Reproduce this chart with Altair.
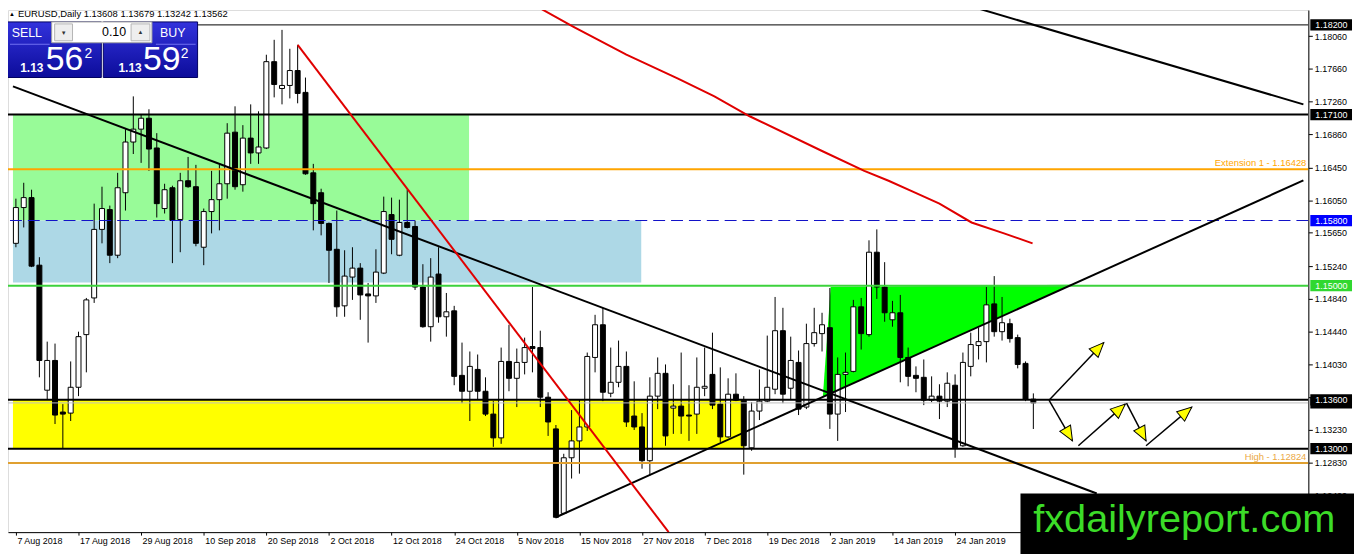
import math
import altair as alt
import pandas as pd

# ---------------- data: daily EURUSD candles (7 Aug 2018 .. 7 Feb 2019) ----------------
OPEN = [1.15520, 1.15959, 1.16081, 1.15252, 1.13718, 1.14083, 1.13450, 1.13437, 1.13754, 1.14400,
        1.14850, 1.15691, 1.15934, 1.15374, 1.16141, 1.16763, 1.16921, 1.17055, 1.16690, 1.15947,
        1.16202, 1.15813, 1.16288, 1.16215, 1.15472, 1.15910, 1.16056, 1.16251, 1.16884, 1.16239,
        1.16811, 1.16629, 1.16690, 1.17749, 1.17420, 1.17457, 1.17640, 1.17372, 1.16385, 1.16141,
        1.15764, 1.15447, 1.14753, 1.15106, 1.15216, 1.14899, 1.14875, 1.15155, 1.15873, 1.15374,
        1.15776, 1.15727, 1.14984, 1.14497, 1.15143, 1.14619, 1.14692, 1.13900, 1.13705, 1.13973,
        1.13705, 1.13425, 1.13133, 1.14071, 1.13864, 1.14059, 1.14254, 1.14241, 1.13632, 1.13243,
        1.12207, 1.12889, 1.13096, 1.13267, 1.14120, 1.14521, 1.13681, 1.13815, 1.14010, 1.13401,
        1.13267, 1.12853, 1.13645, 1.13925, 1.13498, 1.13523, 1.13413, 1.13425, 1.13742, 1.13912,
        1.13547, 1.13145, 1.13669, 1.13596, 1.13011, 1.13462, 1.13584, 1.13730, 1.14448, 1.13742,
        1.14059, 1.13511, 1.14290, 1.14412, 1.14485, 1.13425, 1.13912, 1.13949, 1.14741, 1.14400,
        1.15411, 1.14984, 1.14582, 1.14668, 1.14120, 1.13900, 1.13876, 1.13596, 1.13645, 1.13584,
        1.13779, 1.13036, 1.14010, 1.14266, 1.14314, 1.14777, 1.14436, 1.14534, 1.14363, 1.14047,
        1.13608]
HIGH = [1.16068, 1.16263, 1.16178, 1.15350, 1.14314, 1.14290, 1.13547, 1.14071, 1.14436, 1.14850,
        1.16007, 1.16215, 1.15983, 1.16385, 1.16921, 1.17323, 1.17104, 1.17165, 1.16872, 1.16251,
        1.16227, 1.16385, 1.16580, 1.16483, 1.15947, 1.16409, 1.16483, 1.16994, 1.17201, 1.16970,
        1.17225, 1.17140, 1.17834, 1.18017, 1.18139, 1.17907, 1.17956, 1.17554, 1.16495, 1.16190,
        1.15776, 1.15922, 1.15435, 1.15472, 1.15277, 1.15033, 1.15447, 1.16093, 1.16081, 1.16056,
        1.16178, 1.15800, 1.15264, 1.15338, 1.15472, 1.14911, 1.14753, 1.14302, 1.14193, 1.14156,
        1.13876, 1.13584, 1.14241, 1.14521, 1.14229, 1.14363, 1.14984, 1.14448, 1.13693, 1.13291,
        1.12938, 1.13474, 1.13608, 1.14180, 1.14643, 1.14729, 1.14241, 1.14327, 1.14193, 1.13827,
        1.13437, 1.13876, 1.14120, 1.14034, 1.13791, 1.14180, 1.13779, 1.14120, 1.14241, 1.14424,
        1.13998, 1.13864, 1.13925, 1.13645, 1.13571, 1.13973, 1.14388, 1.14862, 1.14729, 1.14375,
        1.14205, 1.14534, 1.14729, 1.14668, 1.14972, 1.14120, 1.14180, 1.14826, 1.14850, 1.15557,
        1.15691, 1.15289, 1.14814, 1.14887, 1.14241, 1.14010, 1.14095, 1.13888, 1.13791, 1.13937,
        1.13912, 1.14180, 1.14424, 1.14485, 1.14984, 1.15118, 1.14862, 1.14595, 1.14400, 1.14071,
        1.13679]
LOW = [1.15472, 1.15715, 1.15228, 1.13876, 1.13608, 1.13303, 1.12999, 1.13340, 1.13645, 1.13937,
       1.14789, 1.15520, 1.15277, 1.15338, 1.15922, 1.16616, 1.16507, 1.16409, 1.15837, 1.15886,
       1.15277, 1.15411, 1.16202, 1.15484, 1.15252, 1.15642, 1.15679, 1.16068, 1.16178, 1.16154,
       1.16495, 1.16495, 1.16677, 1.17311, 1.17225, 1.17298, 1.17238, 1.16361, 1.15679, 1.15618,
       1.15033, 1.14619, 1.14619, 1.14826, 1.14582, 1.14302, 1.14789, 1.15143, 1.15386, 1.15362,
       1.15703, 1.14948, 1.14485, 1.14314, 1.14546, 1.14375, 1.13779, 1.13559, 1.13340, 1.13608,
       1.13401, 1.13023, 1.13060, 1.13705, 1.13511, 1.13912, 1.13937, 1.13511, 1.13157, 1.12146,
       1.12195, 1.12634, 1.12694, 1.13218, 1.13937, 1.13584, 1.13632, 1.13754, 1.13267, 1.13230,
       1.12755, 1.12670, 1.13486, 1.13036, 1.13182, 1.13182, 1.13096, 1.13182, 1.13645, 1.13486,
       1.13084, 1.13133, 1.13584, 1.12682, 1.12975, 1.13352, 1.13571, 1.13669, 1.13559, 1.13608,
       1.13413, 1.13486, 1.14253, 1.14193, 1.13243, 1.13096, 1.13450, 1.13937, 1.14217, 1.14375,
       1.14838, 1.14558, 1.14497, 1.13815, 1.13766, 1.13693, 1.13535, 1.13571, 1.13364, 1.13511,
       1.12889, 1.13023, 1.13888, 1.14095, 1.14059, 1.14375, 1.14327, 1.14302, 1.13986, 1.13584,
       1.13242]
CLOSE = [1.15959, 1.16081, 1.15240, 1.14083, 1.14083, 1.13413, 1.13425, 1.13754, 1.14375, 1.14826,
         1.15691, 1.15947, 1.15374, 1.16202, 1.16763, 1.16921, 1.17055, 1.16677, 1.16007, 1.16178,
         1.15800, 1.16288, 1.16215, 1.15520, 1.15910, 1.16056, 1.16251, 1.16872, 1.16215, 1.16811,
         1.16629, 1.16702, 1.17749, 1.17469, 1.17457, 1.17640, 1.17359, 1.16373, 1.16007, 1.15764,
         1.15435, 1.14741, 1.15118, 1.15216, 1.14887, 1.14875, 1.15167, 1.15910, 1.15569, 1.15776,
         1.15715, 1.14984, 1.14497, 1.15106, 1.14619, 1.14680, 1.13888, 1.13705, 1.14010, 1.13705,
         1.13425, 1.13133, 1.14071, 1.13864, 1.14059, 1.14241, 1.14229, 1.13632, 1.13328, 1.12159,
         1.12889, 1.13096, 1.13267, 1.14132, 1.14521, 1.13693, 1.13815, 1.14010, 1.13328, 1.13267,
         1.12853, 1.13645, 1.13925, 1.13157, 1.13523, 1.13401, 1.13401, 1.13754, 1.13766, 1.13535,
         1.13145, 1.13669, 1.13596, 1.13036, 1.13462, 1.13584, 1.13754, 1.14448, 1.13669, 1.14083,
         1.13486, 1.14290, 1.14424, 1.14521, 1.13425, 1.13912, 1.13937, 1.14741, 1.14412, 1.15411,
         1.14984, 1.14668, 1.14668, 1.14120, 1.13888, 1.13864, 1.13596, 1.13645, 1.13584, 1.13803,
         1.13011, 1.14059, 1.14278, 1.14314, 1.14765, 1.14436, 1.14546, 1.14351, 1.14034, 1.13608,
         1.13562]

# time-axis tick bars and their labels
DATE_TICKS = [0, 8, 16, 24, 32, 40, 48, 56, 64, 72, 80, 88, 96, 104, 112, 120]
DATE_LABELS = ["7 Aug 2018", "17 Aug 2018", "29 Aug 2018", "10 Sep 2018", "20 Sep 2018",
               "2 Oct 2018", "12 Oct 2018", "24 Oct 2018", "5 Nov 2018", "15 Nov 2018",
               "27 Nov 2018", "7 Dec 2018", "19 Dec 2018", "2 Jan 2019", "14 Jan 2019",
               "24 Jan 2019"]
PRICE_TICKS = [1.18060, 1.17660, 1.17260, 1.16860, 1.16450, 1.16050, 1.15650, 1.15240,
               1.14840, 1.14440, 1.14030, 1.13630, 1.13230, 1.12830, 1.12420]

# horizontal levels
LEVEL_PRICE = [1.18200, 1.17100, 1.16428, 1.15000, 1.13600, 1.13562, 1.13000, 1.12824]
LEVEL_COLOR = ["#000000", "#000000", "#FFA500", "#3CD23C", "#000000", "#C0C0C0", "#000000", "#E0A030"]
LEVEL_WIDTH = [1, 2, 2, 2, 2, 1, 2, 2]
DASHED_LEVEL = 1.15800

LEVEL_TEXT = ["Extension 1 - 1.16428", "High - 1.12824"]
LEVEL_TEXT_PRICE = [1.16428, 1.12824]
LEVEL_TEXT_COLOR = ["#FFA500", "#EBA845"]

# zones (bar index from/to, price from/to)
ZONE_X0 = [-0.375, -0.375, -0.375]
ZONE_X1 = [57.9, 79.9, 93.1]
ZONE_Y0 = [1.17100, 1.15800, 1.13600]
ZONE_Y1 = [1.15800, 1.15040, 1.13000]
ZONE_COLOR = ["#98FB98", "#ADD8E6", "#FFFF00"]

# green triangle
TRI_X = [103.1, 104.1, 134.9]
TRI_LO = [1.13635, 1.13678, 1.15011]
TRI_HI = [1.13635, 1.14984, 1.15011]

# trend lines
TL_X0 = [-0.375, 121.5, 69.0, 36.0]
TL_Y0 = [1.17446, 1.18443, 1.12159, 1.17956]
TL_X1 = [138.1, 164.5, 164.5, 83.4]
TL_Y1 = [1.12451, 1.17225, 1.16292, 1.11976]
TL_COLOR = ["#000000", "#000000", "#000000", "#E00000"]

# red curve
RC_X = [66.25, 71.25, 78.0, 84.6, 89.25, 93.75, 103.0, 108.4, 111.5, 114.6, 118.0, 122.1, 126.25, 129.9]
RC_Y = [1.18443, 1.18176, 1.17834, 1.17542, 1.17323, 1.17079, 1.16653, 1.16409, 1.16288, 1.16154,
        1.16007, 1.15776, 1.15642, 1.15520]

# projection arrows
AR_X0 = [132.0, 132.0, 135.75, 141.9, 144.4]
AR_Y0 = [1.13596, 1.13596, 1.13036, 1.13559, 1.13036]
AR_X1 = [139.0, 135.0, 141.75, 144.4, 150.25]
AR_Y1 = [1.14302, 1.13096, 1.13547, 1.13096, 1.13511]

# price tags on the right scale (the bid tag sits under the 1.13600 tag)
BID_PRICE = 1.13562
TAG_PRICE = [1.18200, 1.17100, 1.15800, 1.15000, 1.13600, 1.13000]
TAG_COLOR = ["#000000", "#000000", "#0000FF", "#30D830", "#000000", "#000000"]

# ---------------- layout ----------------
W, H = 1310, 526
X_DOM = [-0.375, 164.5]
Y_DOM = [1.119766, 1.183827]
FONT = "Liberation Sans"
xs = alt.Scale(domain=X_DOM, nice=False, zero=False)
ys = alt.Scale(domain=Y_DOM, nice=False, zero=False)
KX = W / (X_DOM[1] - X_DOM[0])
KY = H / (Y_DOM[1] - Y_DOM[0])

n = len(OPEN)
candles = pd.DataFrame({"idx": list(range(n)), "o": OPEN, "h": HIGH, "l": LOW, "c": CLOSE})
candles["fill"] = ["#000000" if c < o else "#FFFFFF" for o, c in zip(OPEN, CLOSE)]

label_expr = "[" + ",".join("'%s'" % s for s in DATE_LABELS) + "][round(datum.value/8)]"
x_axis = alt.Axis(values=DATE_TICKS, labelExpr=label_expr, title=None, grid=False, tickSize=3,
                  labelAlign="left", labelBaseline="top", labelPadding=1, labelFont=FONT,
                  labelFontSize=9, labelColor="black", domainColor="black", tickColor="black",
                  labelOverlap=False, labelFlush=False, labelOffset=1)
y_axis = alt.Axis(orient="right", values=PRICE_TICKS, format=".5f", title=None, grid=False,
                  tickSize=4, labelPadding=2, labelFont=FONT, labelFontSize=9, labelColor="black",
                  domainColor="black", tickColor="black", labelOverlap=False, labelFlush=False)


def X(f):
    return alt.X(f, type="quantitative", scale=xs, axis=x_axis)


def Y(f):
    return alt.Y(f, type="quantitative", scale=ys, axis=y_axis)


zones = pd.DataFrame({"x0": ZONE_X0, "x1": ZONE_X1, "y0": ZONE_Y0, "y1": ZONE_Y1, "col": ZONE_COLOR})
zone_layer = alt.Chart(zones).mark_rect(clip=True).encode(
    x=X("x0"), x2="x1", y=Y("y0"), y2="y1", color=alt.Color("col:N", scale=None))

tri = pd.DataFrame({"x": TRI_X, "lo": TRI_LO, "hi": TRI_HI})
tri_layer = alt.Chart(tri).mark_area(color="#00FF00", opacity=1, clip=True).encode(
    x=X("x"), y=Y("lo"), y2="hi")

levels = pd.DataFrame({"p": LEVEL_PRICE, "col": LEVEL_COLOR, "sw": LEVEL_WIDTH})
level_layer = alt.Chart(levels).mark_rule(clip=True).encode(
    y=Y("p"), color=alt.Color("col:N", scale=None), strokeWidth=alt.StrokeWidth("sw:Q", scale=None))
dashed_layer = alt.Chart(pd.DataFrame({"p": [DASHED_LEVEL]})).mark_rule(
    color="#1010C8", strokeWidth=1, strokeDash=[12, 6], clip=True).encode(y=Y("p"))

lt = pd.DataFrame({"t": LEVEL_TEXT, "p": LEVEL_TEXT_PRICE, "col": LEVEL_TEXT_COLOR})
level_text = alt.Chart(lt).mark_text(align="right", baseline="bottom", dy=-1, font=FONT,
                                     fontSize=9.5, clip=True).encode(
    x=alt.value(W - 2), y=Y("p"), text="t:N", color=alt.Color("col:N", scale=None))

wick_layer = alt.Chart(candles).mark_rule(color="black", strokeWidth=1, clip=True).encode(
    x=X("idx"), y=Y("l"), y2="h")
body_layer = alt.Chart(candles).mark_bar(size=5, stroke="black", strokeWidth=1, clip=True).encode(
    x=X("idx"), y=Y("o"), y2="c", fill=alt.Fill("fill:N", scale=None))

tl = pd.DataFrame({"x0": TL_X0, "y0": TL_Y0, "x1": TL_X1, "y1": TL_Y1, "col": TL_COLOR})
tl_layer = alt.Chart(tl).mark_rule(strokeWidth=2, clip=True).encode(
    x=X("x0"), x2="x1", y=Y("y0"), y2="y1", color=alt.Color("col:N", scale=None))

rc = pd.DataFrame({"x": RC_X, "y": RC_Y, "o": list(range(len(RC_X)))})
rc_layer = alt.Chart(rc).mark_line(color="#E00000", strokeWidth=2, clip=True).encode(
    x=X("x"), y=Y("y"), order="o:Q")

ar = pd.DataFrame({"x0": AR_X0, "y0": AR_Y0, "x1": AR_X1, "y1": AR_Y1})
ar["ang"] = [(math.degrees(math.atan2((x1 - x0) * KX, (y1 - y0) * KY)) + 360) % 360
             for x0, y0, x1, y1 in zip(AR_X0, AR_Y0, AR_X1, AR_Y1)]
ar_lines = alt.Chart(ar).mark_rule(color="black", strokeWidth=1.5, clip=True).encode(
    x=X("x0"), x2="x1", y=Y("y0"), y2="y1")
ar_heads = alt.Chart(ar).mark_point(shape="M0,0L0.72,1.7L-0.72,1.7Z", size=300, filled=True,
                                    color="#FFFF00", stroke="black", strokeWidth=1, opacity=1,
                                    clip=True).encode(
    x=X("x1"), y=Y("y1"), angle=alt.Angle("ang:Q", scale=None))

BOX = "M-1,-0.27H1V0.27H-1Z"
bid_box = alt.Chart(pd.DataFrame({"p": [BID_PRICE]})).mark_point(
    shape=BOX, size=1764, filled=True, opacity=1, strokeWidth=0, color="#000000").encode(
    x=alt.value(W + 23), y=Y("p"))
tags = pd.DataFrame({"p": TAG_PRICE, "col": TAG_COLOR,
                     "lab": ["%.5f" % p for p in TAG_PRICE]})
tag_box = alt.Chart(tags).mark_point(shape=BOX, size=1764, filled=True,
                                     opacity=1, strokeWidth=0).encode(
    x=alt.value(W + 23), y=Y("p"), color=alt.Color("col:N", scale=None))
tag_text = alt.Chart(tags).mark_text(align="left", baseline="middle", font=FONT, fontSize=9,
                                     color="white", dy=0.5).encode(
    x=alt.value(W + 7), y=Y("p"), text="lab:N")

one = pd.DataFrame({"k": [0]})


def prect(x1, y1, x2, y2, **kw):
    return alt.Chart(one).mark_rect(**kw).encode(
        x=alt.value(x1), x2=alt.value(x2), y=alt.value(y1), y2=alt.value(y2))


def ptext(x, y, t, **kw):
    base = dict(font=FONT, baseline="middle")
    base.update(kw)
    return alt.Chart(one).mark_text(text=t, **base).encode(x=alt.value(x), y=alt.value(y))


grad = alt.Gradient(gradient="linear",
                    stops=[alt.GradientStop(color="#3232DC", offset=0),
                           alt.GradientStop(color="#0C0C9A", offset=1)],
                    x1=0, x2=0, y1=0, y2=1)

panel = [
    prect(-2, 12, 94, 68, color=grad, stroke="#000060", strokeWidth=1),
    prect(96, 12, 191, 68, color=grad, stroke="#000060", strokeWidth=1),
    prect(44, 12, 145, 33, color="#FFFFFF", stroke="#A0A0A0", strokeWidth=1),
    prect(47, 14, 65, 31, color="#EEEEEE", stroke="#B4B4B4", strokeWidth=1),
    prect(124, 14, 143, 31, color="#EEEEEE", stroke="#B4B4B4", strokeWidth=1),
    prect(2, 34, 42, 35, color="#7070F0"),
    prect(149, 34, 189, 35, color="#7070F0"),
    ptext(56, 23, "▼", align="center", fontSize=6, color="#333333"),
    ptext(133.5, 22, "▲", align="center", fontSize=6, color="#333333"),
    ptext(119, 22.5, "0.10", align="right", fontSize=12.5, color="black"),
    ptext(19, 23.5, "SELL", align="center", fontSize=12.5, color="white"),
    ptext(166, 23.5, "BUY", align="center", fontSize=12.5, color="white"),
    ptext(24, 58, "1.13", align="center", fontSize=12, fontWeight="bold", color="white"),
    ptext(57, 50, "56", align="center", fontSize=34, color="white"),
    ptext(81, 44, "2", align="center", fontSize=14, color="white"),
    ptext(123, 58, "1.13", align="center", fontSize=12, fontWeight="bold", color="white"),
    ptext(155, 50, "59", align="center", fontSize=34, color="white"),
    ptext(178, 44, "2", align="center", fontSize=14, color="white"),
    ptext(1, 4, "▲", align="left", fontSize=6, color="black"),
    ptext(10, 4.5, "EURUSD,Daily  1.13608 1.13679 1.13242 1.13562", align="left",
          fontSize=9.5, color="black"),
]

watermark = [
    prect(1020, 487, 1356, 548, color="#000000"),
    ptext(1185, 526, "fxdailyreport.com", align="center", baseline="alphabetic", fontSize=40,
          color="#3CDC28"),
]

chart = alt.layer(
    zone_layer, tri_layer, wick_layer, body_layer, level_layer, dashed_layer, level_text,
    tl_layer, rc_layer, ar_lines, ar_heads, bid_box, tag_box, tag_text, *panel, *watermark
).properties(
    width=W, height=H,
    autosize=alt.AutoSizeParams(type="none"),
    padding={"left": 0, "top": 0, "right": 46, "bottom": 20},
    background="white",
).configure_view(stroke="black", strokeWidth=1).configure(font=FONT)

chart.save("out.html", embed_options={"renderer": "svg", "actions": False})
